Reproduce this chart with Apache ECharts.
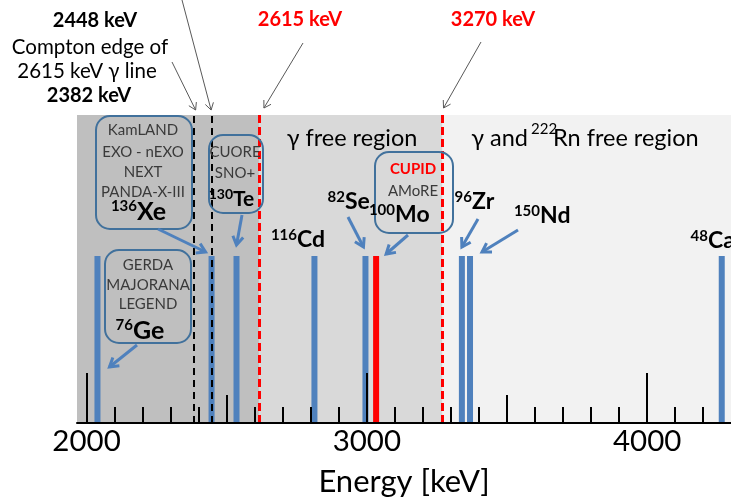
<!DOCTYPE html>
<html>
<head>
<meta charset="utf-8">
<script src="https://cdn.jsdelivr.net/npm/echarts@6/dist/echarts.min.js"></script>
<style>
  html, body { margin: 0; padding: 0; background: #ffffff; }
  #chart { width: 731px; height: 502px; }
</style>
</head>
<body>
<div id="chart"></div>
<script>
// Double-beta decay candidate isotopes and their Q-values (keV)
const isotopes = ['76Ge', '136Xe', '130Te', '116Cd', '82Se', '100Mo', '96Zr', '150Nd', '48Ca'];
const qValues = [2039, 2446, 2535, 2813, 2995, 3033, 3339, 3368, 4266];
const highlighted = '100Mo';

// Background thresholds (keV)
const comptonEdge = 2382;
const line2448 = 2448;
const gammaLine = 2615;
const radonLine = 3270;

// Energy axis range and tick values (keV)
const energyMin = 1966;
const energyMax = 4299;
const majorTicks = [2000, 3000, 4000];
const midTicks = [2500, 3500];
const minorTicks = [2100, 2200, 2300, 2400, 2600, 2700, 2800, 2900,
                    3100, 3200, 3300, 3400, 3600, 3700, 3800, 3900,
                    4100, 4200, 4300];

// Common height of the Q-value markers (fraction of the plot height, %)
const markerLevel = 54.2;

const FONT = 'Lato, "Open Sans", "DejaVu Sans", sans-serif';
const BLUE = '#4f81bd';
const RED = '#ff0000';

const chart = echarts.init(document.getElementById('chart'), null, { renderer: 'canvas' });

const gridBox = { left: 77, right: 0, top: 115, bottom: 79, outerBoundsMode: 'none' };

function tickAxis(gridIndex, values, length, withLabels) {
  return {
    type: 'value', gridIndex: gridIndex, min: energyMin, max: energyMax,
    position: 'bottom', z: 10,
    splitLine: { show: false },
    axisLine: { show: withLabels, onZero: false, lineStyle: { color: '#000', width: 2 } },
    axisTick: { show: true, inside: true, length: length, customValues: values,
                lineStyle: { color: '#000', width: 2 } },
    axisLabel: withLabels ? {
      show: true, customValues: majorTicks, fontSize: 29.5, color: '#000',
      fontFamily: FONT, margin: 3, formatter: v => String(v)
    } : { show: false },
    name: withLabels ? 'Energy [keV]' : '',
    nameLocation: 'middle', nameGap: 43,
    nameTextStyle: { fontSize: 31, color: '#000', fontFamily: FONT }
  };
}

function hiddenY(gridIndex) {
  return { type: 'value', gridIndex: gridIndex, min: 0, max: 100, show: false };
}

const dashBlack = { color: '#000', width: 2, type: [7, 5] };
const dashRed = { color: RED, width: 3, type: [8, 4] };

const option = {
  animation: false,
  backgroundColor: '#ffffff',
  grid: [gridBox, gridBox, gridBox],
  xAxis: [
    tickAxis(0, majorTicks, 50, true),
    tickAxis(1, midTicks, 28, false),
    tickAxis(2, minorTicks, 16, false)
  ],
  yAxis: [hiddenY(0), hiddenY(1), hiddenY(2)],
  series: [
    {
      // shaded background regions
      type: 'line', xAxisIndex: 0, yAxisIndex: 0, data: [], z: 1, silent: true,
      markArea: {
        silent: true, z: 1,
        data: [
          [{ xAxis: energyMin, itemStyle: { color: '#bfbfbf' } }, { xAxis: gammaLine }],
          [{ xAxis: gammaLine, itemStyle: { color: '#d9d9d9' } }, { xAxis: radonLine }],
          [{ xAxis: radonLine, itemStyle: { color: '#f2f2f2' } }, { xAxis: energyMax }]
        ]
      }
    },
    {
      // Q-value markers
      type: 'bar', xAxisIndex: 0, yAxisIndex: 0, z: 2, barWidth: 6,
      data: qValues.map((q, i) => ({
        value: [q, markerLevel],
        itemStyle: { color: isotopes[i] === highlighted ? RED : BLUE }
      }))
    },
    {
      // threshold lines
      type: 'line', xAxisIndex: 0, yAxisIndex: 0, data: [], z: 3, silent: true,
      markLine: {
        silent: true, z: 3, symbol: ['none', 'none'], label: { show: false },
        data: [
          { xAxis: comptonEdge, lineStyle: dashBlack },
          { xAxis: line2448, lineStyle: dashBlack },
          { xAxis: gammaLine, lineStyle: dashRed },
          { xAxis: radonLine, lineStyle: dashRed }
        ]
      }
    }
  ]
};

chart.setOption(option);

// ---- annotations ----
function px(x, y) { return chart.convertToPixel({ gridIndex: 0 }, [x, y]); }

function txt(x, y, text, size, opts) {
  opts = opts || {};
  return {
    type: 'text', x: x, y: y, z: 100, silent: true,
    style: {
      text: text, fontSize: size, fontFamily: FONT,
      fontWeight: opts.bold ? 'bold' : 'normal',
      fill: opts.color || '#000',
      align: opts.align || 'center', textAlign: opts.align || 'center',
      verticalAlign: 'middle', textVerticalAlign: 'middle'
    }
  };
}

// isotope label: superscript mass number right-aligned at x, symbol left-aligned at x
function isoLabel(x, y, sup, sym, symSize, supSize) {
  return [
    txt(x, y - symSize * 0.22, sup, supSize, { bold: true, align: 'right' }),
    txt(x, y, sym, symSize, { bold: true, align: 'left' })
  ];
}

function arrow(x1, y1, x2, y2, color, width, head) {
  const ang = Math.atan2(y2 - y1, x2 - x1);
  const a1 = ang + Math.PI - 0.55, a2 = ang + Math.PI + 0.55;
  return [
    { type: 'line', z: 90, silent: true, shape: { x1: x1, y1: y1, x2: x2, y2: y2 },
      style: { stroke: color, lineWidth: width } },
    { type: 'polyline', z: 90, silent: true,
      shape: { points: [[x2 + head * Math.cos(a1), y2 + head * Math.sin(a1)], [x2, y2],
                        [x2 + head * Math.cos(a2), y2 + head * Math.sin(a2)]] },
      style: { stroke: color, lineWidth: width, fill: null } }
  ];
}

function box(x, y, w, h) {
  return { type: 'rect', z: 80, silent: true, shape: { x: x, y: y, width: w, height: h, r: 14 },
           style: { fill: null, stroke: '#41719c', lineWidth: 2 } };
}

function lineX(v) { return px(v, 0)[0]; }
function barTip(name) { return px(qValues[isotopes.indexOf(name)], markerLevel); }

const g = [];
const TXT = '#3a3a3a';

// threshold captions
g.push(txt(95, 21, '2448 keV', 20, { bold: true }));
g.push(txt(90, 47, 'Compton edge of', 20.5));
g.push(txt(87, 71, '2615 keV \u03b3 line', 20.5));
g.push(txt(89, 96, '2382 keV', 20, { bold: true }));
g.push(txt(300, 20, '2615 keV', 20, { bold: true, color: RED }));
g.push(txt(493, 20, '3270 keV', 20, { bold: true, color: RED }));

const gray = '#595959';
g.push(...arrow(182, 0, lineX(line2448) - 1, 110, gray, 1, 8));
g.push(...arrow(172, 62, lineX(comptonEdge) + 2, 110, gray, 1, 8));
g.push(...arrow(303, 43, lineX(gammaLine) + 5, 108, gray, 1, 8));
g.push(...arrow(481, 42, lineX(radonLine) + 1, 108, gray, 1, 8));

// region titles
g.push(txt(352, 138, '\u03b3 free region', 23.5));
g.push(txt(528, 138, '\u03b3 and', 23.5, { align: 'right' }));
g.push(txt(531, 129, '222', 15, { align: 'left' }));
g.push(txt(553, 138, 'Rn free region', 23.5, { align: 'left' }));

// experiment call-outs
g.push(box(96, 116, 96, 113));
g.push(txt(143, 130, 'KamLAND', 15, { color: TXT }));
g.push(txt(143, 152, 'EXO - nEXO', 15, { color: TXT }));
g.push(txt(143, 172, 'NEXT', 15, { color: TXT }));
g.push(txt(143, 192, 'PANDA-X-III', 15, { color: TXT }));
g.push(...isoLabel(137, 212, '136', 'Xe', 25, 15));

g.push(box(209, 135, 54, 78));
g.push(txt(235, 152, 'CUORE', 15, { color: TXT }));
g.push(txt(235, 173, 'SNO+', 15, { color: TXT }));
g.push(...isoLabel(233, 199, '130', 'Te', 21, 14));

g.push(box(105, 250, 86, 93));
g.push(txt(148, 265, 'GERDA', 15, { color: TXT }));
g.push(txt(148, 285, 'MAJORANA', 15, { color: TXT }));
g.push(txt(148, 304, 'LEGEND', 15, { color: TXT }));
g.push(...isoLabel(133, 331, '76', 'Ge', 25, 15));

g.push(box(375, 152, 78, 81));
g.push(txt(413, 169, 'CUPID', 15, { bold: true, color: RED }));
g.push(txt(413, 191, 'AMoRE', 15, { color: TXT }));
g.push(...isoLabel(395, 215, '100', 'Mo', 23, 15));

// free-standing isotope labels
g.push(...isoLabel(297, 240, '116', 'Cd', 23, 15));
g.push(...isoLabel(345, 202, '82', 'Se', 23, 15));
g.push(...isoLabel(472, 202, '96', 'Zr', 23, 15));
g.push(...isoLabel(540, 216, '150', 'Nd', 23, 15));
g.push(...isoLabel(708, 241, '48', 'Ca', 23, 15));

// pointers to the Q-value markers
let t;
t = barTip('76Ge');  g.push(...arrow(137, 345, t[0] + 12, 367, BLUE, 3, 10));
t = barTip('136Xe'); g.push(...arrow(158, 229, t[0] - 6, 252, BLUE, 3, 10));
t = barTip('130Te'); g.push(...arrow(242, 215, t[0], 245, BLUE, 3, 10));
t = barTip('82Se');  g.push(...arrow(348, 217, t[0] - 2, 247, BLUE, 3, 10));
t = barTip('100Mo'); g.push(...arrow(408, 235, t[0] + 10, 254, BLUE, 3, 10));
t = barTip('96Zr');  g.push(...arrow(478, 219, t[0], 247, BLUE, 3, 10));
t = barTip('150Nd'); g.push(...arrow(518, 230, t[0] + 12, 252, BLUE, 3, 10));

chart.setOption({ graphic: { elements: g } });
</script>
</body>
</html>
